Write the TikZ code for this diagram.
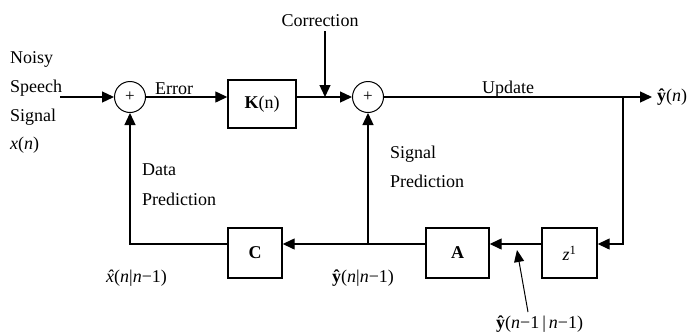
\documentclass[tikz,border=0pt]{standalone}
\usepackage{fontspec}
\setmainfont{Liberation Serif}
\usetikzlibrary{arrows.meta}
\begin{document}
\begin{tikzpicture}[x=1pt,y=-1pt,font=\fontsize{18}{20}\selectfont,
  line/.style={line width=1.3pt},
  arr/.style={line,-{Triangle[length=12pt,width=11pt]}},
  blk/.style={draw,line width=1.4pt,inner sep=0pt},
  sumnode/.style={draw,circle,line width=1pt,minimum size=31pt,inner sep=0pt,font=\fontsize{17}{18}\selectfont},
  lbl/.style={anchor=base west,inner sep=0pt}]
\useasboundingbox (0,0) rectangle (689,335);
% blocks
\node[sumnode] (s1) at (130,97) {+};
\node[sumnode] (s2) at (368,97) {+};
\node[blk,minimum width=68pt,minimum height=48pt] (K) at (262,104) {\textbf{K}(n)};
\node[blk,minimum width=54pt,minimum height=50pt] (C) at (255,253) {\textbf{C}};
\node[blk,minimum width=63pt,minimum height=50pt] (A) at (457.5,253) {\textbf{A}};
\node[blk,minimum width=55pt,minimum height=50pt] (Z) at (569.5,253) {\textit{z}\textsuperscript{1}};
% helper coordinates
\coordinate (in) at (60,97);
\coordinate (corr) at (325,31);
\coordinate (out) at (652,97);
\coordinate (tap) at (623,97);
\coordinate (fb) at (0,244);
\coordinate (ann) at (528,312);
\coordinate (annt) at (517,250);
% connectors
\draw[arr] (in) -- (s1.west);
\draw[arr] (s1.east) -- (K.west |- s1);
\draw[arr] (K.east |- s2) -- (s2.west);
\draw[arr] (corr) -- (corr |- s2);
\draw[arr] (s2.east) -- (out);
\draw[arr] (tap) -- (tap |- fb) -- (Z.east |- fb);
\draw[arr] (Z.west |- fb) -- (A.east |- fb);
\draw[arr] (A.west |- fb) -- (C.east |- fb);
\draw[arr] (s2 |- fb) -- (s2.south);
\draw[arr] (C.west |- fb) -- (s1 |- fb) -- (s1.south);
\draw[line width=1pt,-{Triangle[length=12pt,width=10pt]}] (ann) -- (annt);
% labels
\node[lbl] (t1) at (10,63) {Noisy};
\node[lbl] (t2) at (10,92) {Speech};
\node[lbl] (t3) at (10,121) {Signal};
\node[lbl] (t4) at (10,149) {\textit{x}(\textit{n})};
\node[lbl] (err) at (155,94) {Error};
\node[anchor=base,inner sep=0pt] (cor) at (320,26) {Correction};
\node[lbl] (upd) at (482,93) {Update};
\node[anchor=west,inner sep=0pt] (yn) at (657,97) {\textbf{ŷ}(\textit{n})};
\node[lbl] (d1) at (142,175) {Data};
\node[lbl] (d2) at (142,205) {Prediction};
\node[lbl] (sg1) at (390,158) {Signal};
\node[lbl] (sg2) at (390,187) {Prediction};
\node[lbl] (xh) at (106,282) {{\itshape\accent"02C6 x}(\textit{n}|\textit{n}−1)};
\node[lbl] (yh) at (332,282) {\textbf{ŷ}(\textit{n}|\textit{n}−1)};
\node[lbl] (yh2) at (496,328) {\textbf{ŷ}(\textit{n}−1\,|\,\textit{n}−1)};
\end{tikzpicture}
\end{document}
